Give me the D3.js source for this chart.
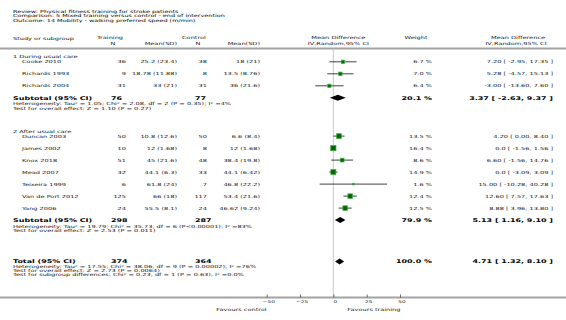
<!DOCTYPE html>
<html>
<head>
<meta charset="utf-8">
<script src="https://cdn.jsdelivr.net/npm/d3@7"></script>
<style>
  html, body { margin: 0; padding: 0; background: #fff; }
  svg { display: block; font-family: "DejaVu Sans", Verdana, sans-serif; }
</style>
</head>
<body>
<svg id="chart" width="566" height="320"></svg>
<script>
// header text
const TITLE_LINES = [
    "Review:  Physical fitness training for stroke patients",
    "Comparison:  5 Mixed training versus control - end of intervention",
    "Outcome:  14 Mobility - walking preferred speed (m/min)"
]

// studies
const GROUPS = ["1 During usual care", "2 After usual care"]
const STUDIES = ["Cooke 2010", "Richards 1993", "Richards 2004", "Duncan 2003", "James 2002",
    "Knox 2018", "Mead 2007", "Teixeira 1999", "Van de Port 2012", "Yang 2006"]
const STUDY_GROUP = [0, 0, 0, 1, 1, 1, 1, 1, 1, 1]
const TRAIN_N = [36, 9, 31, 50, 10, 51, 32, 6, 125, 24]
const TRAIN_MEAN = [25.2, 18.78, 33, 10.8, 12, 45, 44.1, 61.8, 66, 55.5]
const TRAIN_SD = [23.4, 11.88, 21, 12.6, 1.68, 21.6, 6.3, 24, 18, 8.1]
const CTRL_N = [38, 8, 31, 50, 8, 48, 33, 7, 117, 24]
const CTRL_MEAN = [18, 13.5, 36, 6.6, 12, 38.4, 44.1, 46.8, 53.4, 46.62]
const CTRL_SD = [21, 8.76, 21.6, 8.4, 1.68, 19.8, 6.42, 22.2, 21.6, 9.24]
const MD = [7.2, 5.28, -3, 4.2, 0, 6.6, 0, 15, 12.6, 8.88]
const MD_LOW = [-2.95, -4.57, -13.6, 0, -1.56, -1.56, -3.09, -10.28, 7.57, 3.96]
const MD_HIGH = [17.35, 15.13, 7.6, 8.4, 1.56, 14.76, 3.09, 40.28, 17.63, 13.8]
const WEIGHT = [6.7, 7.0, 6.4, 13.5, 16.4, 8.6, 14.9, 1.6, 12.4, 12.5]

// subtotals, one per group
const SUB_TRAIN_N = [76, 298]
const SUB_CTRL_N = [77, 287]
const SUB_MD = [3.37, 5.13]
const SUB_LOW = [-2.63, 1.16]
const SUB_HIGH = [9.37, 9.10]
const SUB_WEIGHT = [20.1, 79.9]
const SUB_NOTES = [
    ["Heterogeneity: Tau² = 1.05; Chi² = 2.08, df = 2 (P = 0.35); I² =4%",
     "Test for overall effect: Z = 1.10 (P = 0.27)"],
    ["Heterogeneity: Tau² = 19.79; Chi² = 35.73, df = 6 (P<0.00001); I² =83%",
     "Test for overall effect: Z = 2.53 (P = 0.011)"]
]

// overall
const TOTAL_N = [374, 364]
const TOTAL_EST = [4.71, 1.32, 8.10]
const TOTAL_WEIGHT = 100.0
const TOTAL_NOTES = [
    "Heterogeneity: Tau² = 17.55; Chi² = 38.06, df = 9 (P = 0.00002); I² =76%",
    "Test for overall effect: Z = 2.73 (P = 0.0064)",
    "Test for subgroup differences: Chi² = 0.23, df = 1 (P = 0.63), I² =0.0%"
]

const X_TICKS = [-50, -25, 0, 25, 50]
const FAVOURS = ["Favours control", "Favours training"]

// sizes
const W = 566, H = 320
const SY = 0.64          // the picture is squashed vertically
const FS = 6.6, FS_BOLD = 8
const STEP = 12
const TXT = "#141414"

const svg = d3.select("#chart")
svg.append("rect").attr("width", W).attr("height", H).attr("fill", "#fff")

const fmtMd = v => v === 0 ? "0.0" : v.toFixed(2)
const ciText = (m, lo, hi) => fmtMd(m) + " [ " + lo.toFixed(2) + ", " + hi.toFixed(2) + " ]"

function txt(x, y, s, anchor = "start", bold = false, size) {
    return svg.append("text")
        .attr("transform", "translate(" + x + "," + y + ") scale(1," + SY + ")")
        .attr("dy", "0.35em")
        .attr("text-anchor", anchor)
        .style("font-size", (size || (bold ? FS_BOLD : FS)) + "px")
        .style("font-weight", bold ? "bold" : null)
        .attr("fill", bold ? "#000" : TXT)
        .text(s)
}

// columns
const COL = {
    name: 13, study: 22, trainN: 126, trainMean: 177, ctrlN: 207, ctrlMean: 260,
    subTrain: 111, subCtrl: 195, weight: 432, ci: 553
}

// x scale for the plot
const x = d3.scaleLinear().domain([-50, 50]).range([266.7, 400])

// row positions
const rowY = new Map()
let cy = 57
GROUPS.forEach((g, gi) => {
    rowY.set("g" + gi, cy)
    cy += 4.8
    const idx = STUDIES.map((s, i) => i).filter(i => STUDY_GROUP[i] === gi)
    idx.forEach((i, k) => {
        rowY.set("s" + i, cy)
        cy += STEP
    })
    rowY.set("sub" + gi, cy)
    cy += 6
    rowY.set("het" + gi, cy)
    cy += 4.3
    rowY.set("test" + gi, cy)
    cy += 23.2
})
cy += 8
rowY.set("total", cy)
TOTAL_NOTES.forEach((n, i) => rowY.set("tnote" + i, cy + 5 + i * 4.2))
const y = d3.scaleOrdinal(Array.from(rowY.keys()), Array.from(rowY.values()))

// title
TITLE_LINES.forEach((t, i) => txt(13, 11.5 + i * 4.3, t, "start", false, 6.5).attr("fill", "#000"))

// column headers
const h1 = 37.5, h2 = 43.5
txt(COL.name, 38.5, "Study or subgroup")
txt(97, h1, "Training")
txt(113, h2, "N", "middle")
txt(COL.trainMean, h2, "Mean(SD)", "end")
txt(182, h1, "Control")
txt(198, h2, "N", "middle")
txt(COL.ctrlMean, h2, "Mean(SD)", "end")
txt(x(0) + 5, h1, "Mean Difference", "middle")
txt(x(0) + 5, h2, "IV,Random,95% CI", "middle")
txt(416, h1, "Weight", "middle")
txt(518, h1, "Mean Difference", "middle")
txt(516, h2, "IV,Random,95% CI", "middle")

// rules
svg.append("line").attr("x1", 0).attr("x2", W).attr("y1", 48.5).attr("y2", 48.5)
    .attr("stroke", "#a3a3a3").attr("stroke-width", 2)
const axisY = 297.5
svg.append("line").attr("x1", x(0)).attr("x2", x(0)).attr("y1", 49.5).attr("y2", axisY - 1)
    .attr("stroke", "#c9c9c9").attr("stroke-width", 1)
svg.append("line").attr("x1", 0).attr("x2", W).attr("y1", axisY).attr("y2", axisY)
    .attr("stroke", "#a3a3a3").attr("stroke-width", 2)

// groups + studies
GROUPS.forEach((g, gi) => txt(COL.name, y("g" + gi), g))

STUDIES.forEach((s, i) => {
    const yy = y("s" + i)
    txt(COL.study, yy, s)
    txt(COL.trainN, yy, TRAIN_N[i], "end")
    txt(COL.trainMean, yy, TRAIN_MEAN[i] + " (" + TRAIN_SD[i] + ")", "end")
    txt(COL.ctrlN, yy, CTRL_N[i], "end")
    txt(COL.ctrlMean, yy, CTRL_MEAN[i] + " (" + CTRL_SD[i] + ")", "end")
    txt(COL.weight, yy, WEIGHT[i].toFixed(1) + " %", "end")
    txt(COL.ci, yy, ciText(MD[i], MD_LOW[i], MD_HIGH[i]), "end")
})

// CI lines and boxes
const plot = svg.append("g")
plot.selectAll(".ci").data(STUDIES).enter().append("line")
    .attr("class", "ci")
    .attr("x1", (d, i) => x(MD_LOW[i]))
    .attr("x2", (d, i) => x(MD_HIGH[i]))
    .attr("y1", (d, i) => y("s" + i))
    .attr("y2", (d, i) => y("s" + i))
    .attr("stroke", "#111").attr("stroke-width", 0.8)

const boxSide = w => 1.3 * Math.sqrt(w)
plot.selectAll(".box").data(STUDIES).enter().append("rect")
    .attr("class", "box")
    .attr("x", (d, i) => x(MD[i]) - boxSide(WEIGHT[i]) / 2)
    .attr("y", (d, i) => y("s" + i) - boxSide(WEIGHT[i]) / 2)
    .attr("width", (d, i) => boxSide(WEIGHT[i]))
    .attr("height", (d, i) => boxSide(WEIGHT[i]))
    .attr("fill", "#006a00")
    .attr("stroke", "#3fae3f").attr("stroke-width", 0.7)

function diamond(m, lo, hi, yy) {
    const hh = 3
    plot.append("path")
        .attr("d", "M" + x(lo) + "," + yy + "L" + x(m) + "," + (yy - hh) + "L" + x(hi) + "," + yy +
            "L" + x(m) + "," + (yy + hh) + "Z")
        .attr("fill", "#000")
}

// subtotals
GROUPS.forEach((g, gi) => {
    const yy = y("sub" + gi)
    txt(COL.name, yy, "Subtotal (95% CI)", "start", true)
    txt(COL.subTrain, yy, SUB_TRAIN_N[gi], "start", true)
    txt(COL.subCtrl, yy, SUB_CTRL_N[gi], "start", true)
    txt(COL.weight, yy, SUB_WEIGHT[gi].toFixed(1) + " %", "end", true)
    txt(COL.ci, yy, ciText(SUB_MD[gi], SUB_LOW[gi], SUB_HIGH[gi]), "end", true)
    diamond(SUB_MD[gi], SUB_LOW[gi], SUB_HIGH[gi], yy)
    txt(COL.name, y("het" + gi), SUB_NOTES[gi][0])
    txt(COL.name, y("test" + gi), SUB_NOTES[gi][1])
})

// total
const ty = y("total")
txt(COL.name, ty, "Total (95% CI)", "start", true)
txt(COL.subTrain, ty, TOTAL_N[0], "start", true)
txt(COL.subCtrl, ty, TOTAL_N[1], "start", true)
txt(COL.weight, ty, TOTAL_WEIGHT.toFixed(1) + " %", "end", true)
txt(COL.ci, ty, ciText(TOTAL_EST[0], TOTAL_EST[1], TOTAL_EST[2]), "end", true)
diamond(TOTAL_EST[0], TOTAL_EST[1], TOTAL_EST[2], ty)
TOTAL_NOTES.forEach((n, i) => txt(COL.name, y("tnote" + i), n))

// axis
const axis = svg.append("g")
    .attr("transform", "translate(0," + axisY + ")")
    .call(d3.axisBottom(x).tickValues(X_TICKS).tickSizeInner(-3).tickSizeOuter(0))
axis.select(".domain").remove()
axis.selectAll(".tick line").attr("stroke", "#333").attr("stroke-width", 0.7)
axis.selectAll(".tick text")
    .attr("y", null).attr("dy", "0.35em")
    .attr("transform", "translate(1.5,4.5) scale(1," + SY + ")")
    .attr("fill", TXT)
    .style("font-size", "5.8px")
    .style("font-family", "\"DejaVu Sans\", Verdana, sans-serif")

txt(x(-50), 309.5, FAVOURS[0], "end")
txt(x(10.5), 309.5, FAVOURS[1], "start")
</script>
</body>
</html>
